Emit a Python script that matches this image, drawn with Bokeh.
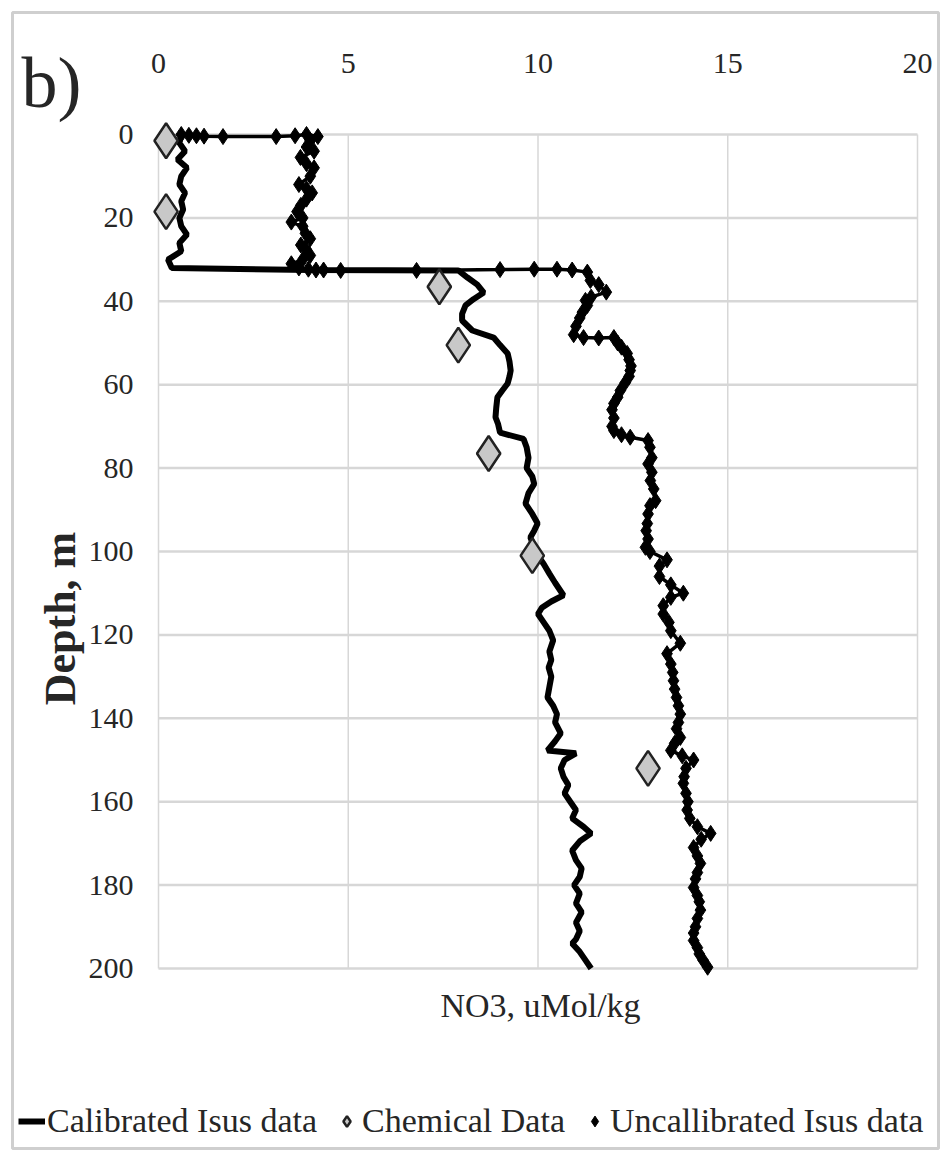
import math
from bokeh.plotting import figure
from bokeh.models import (Range1d, FixedTicker, Label, Legend, LegendItem,
                          BoxAnnotation, ColumnDataSource, LinearAxis)
from bokeh.embed import file_html
from bokeh.resources import INLINE

# ---------------- data ----------------
x_ticks = [0, 5, 10, 15, 20]
y_ticks = [0, 20, 40, 60, 80, 100, 120, 140, 160, 180, 200]

# Chemical data (bottle samples)
chem_no3 = [0.2, 0.2, 7.4, 7.9, 8.7, 9.85, 12.9]
chem_depth = [1.5, 18.5, 36.5, 50.5, 76.5, 101, 152]

# Calibrated Isus data
cal_depth = [0, 2, 4, 6, 8, 10, 12, 14, 16, 18, 20, 22, 24, 26, 28, 30, 32,
             32.5, 32.6, 34.3, 36, 37.9, 39.5, 41, 43, 44.6, 47, 48.7, 50.5,
             52.5, 54.5, 56.6, 58, 59.7, 61.5, 63, 65.5, 67.8, 69.5, 71.5, 73,
             75, 77.5, 80, 82, 83.8, 86, 88.5, 91, 93.3, 95, 96.6, 99, 101,
             103, 105.3, 107.5, 110.5, 112, 113.5, 115, 117, 119, 121.3, 124,
             126, 127.8, 130, 132.5, 135, 137, 139, 141, 143.6, 145.5, 147.7,
             148.4, 150, 152, 154, 156, 158, 160, 162, 164, 166, 167.6, 169.5,
             171.7, 174, 176, 178, 180, 182, 184.4, 186.5, 189, 191, 193, 194,
             196, 198, 200]
cal_no3 = [0.6, 0.55, 0.7, 0.5, 0.75, 0.6, 0.55, 0.7, 0.6, 0.65, 0.55, 0.6,
           0.75, 0.55, 0.6, 0.25, 0.35,
           4.0, 7.9, 8.14, 8.4, 8.57, 8.3, 8.09, 8.0, 8.0, 8.27, 8.83, 9.0,
           9.2, 9.25, 9.28, 9.25, 9.2, 9.05, 8.93, 8.9, 8.88, 8.95, 9.0, 9.62,
           9.7, 9.75, 9.7, 9.85, 9.9, 9.75, 9.67, 9.85, 9.99, 9.9, 9.8, 9.9,
           10.0, 10.15, 10.3, 10.45, 10.67, 10.35, 10.1, 10.0, 10.15, 10.3,
           10.4, 10.3, 10.35, 10.28, 10.35, 10.3, 10.25, 10.4, 10.5, 10.45,
           10.6, 10.45, 10.25, 11.0, 10.7, 10.6, 10.67, 10.8, 10.7, 10.85,
           11.0, 10.9, 11.2, 11.4, 11.1, 10.9, 11.0, 11.15, 11.1, 10.95, 11.1,
           11.0, 11.15, 11.0, 11.1, 11.0, 10.9, 11.1, 11.25, 11.4]

# Uncalibrated Isus data
uncal_depth = [0, 0.2, 0.3, 0.4, 0.5, 0.5, 0.3, 0, 0.5, 1.5, 3, 4, 5.5, 7, 8,
               10, 12, 13, 14, 15.5, 17, 18.5, 20, 21, 22, 23.7, 25, 26.5,
               27.7, 29, 30, 31, 32, 32.3, 32.5, 32.5, 32.6, 32.6, 32.4, 32.3,
               32.3, 32.5, 33, 35, 36, 37.8, 39, 39.8, 41, 42.6, 44, 46, 48,
               48.7, 48.8, 48.7, 50, 51, 52.5, 54, 55.5, 56.6, 58, 59.5, 61.4,
               63, 64.5, 66, 68, 70, 71, 72, 72.6, 73.4, 75, 77.5, 79, 81, 83,
               85, 87.8, 89, 91, 93.3, 95, 97, 99, 100, 102, 103.5, 106, 108,
               110, 111, 113, 115, 117, 119, 122, 124.5, 127, 129, 131, 133,
               135, 137, 139, 141, 142.5, 144.6, 146, 147.7, 149, 150, 152,
               154, 155.6, 158, 160, 162, 164, 166, 167.6, 169, 171, 173,
               174.8, 177, 178.5, 180.6, 182.5, 184, 186, 188, 190, 191.5,
               193.3, 195, 196.5, 198, 199.7]
uncal_no3 = [0.6, 0.8, 1.0, 1.2, 1.7, 3.1, 3.6, 3.9, 4.2, 4.0, 3.9, 4.1, 3.74,
             3.9, 4.1, 4.0, 3.7, 3.9, 4.05, 3.9, 3.75, 3.65, 3.8, 3.5, 3.8,
             3.87, 4.0, 3.75, 3.9, 4.0, 3.8, 3.5, 3.7, 3.95, 4.15, 4.35, 4.8,
             6.8, 9.0, 9.9, 10.5, 10.9, 11.3, 11.38, 11.6, 11.8, 11.4, 11.25,
             11.3, 11.17, 11.1, 11.0, 10.94, 11.2, 11.6, 12.0, 12.1, 12.2,
             12.35, 12.4, 12.45, 12.43, 12.4, 12.3, 12.17, 12.1, 12.0, 11.95,
             12.0, 11.95, 12.0, 12.2, 12.43, 12.9, 12.95, 13.0, 12.9, 13.0,
             12.96, 13.05, 13.1, 12.95, 12.9, 12.88, 12.85, 12.9, 12.83, 12.95,
             13.4, 13.2, 13.2, 13.5, 13.83, 13.5, 13.3, 13.3, 13.45, 13.5,
             13.75, 13.4, 13.5, 13.55, 13.57, 13.6, 13.65, 13.7, 13.75, 13.7,
             13.65, 13.75, 13.6, 13.5, 13.8, 14.1, 13.9, 13.85, 13.83, 13.9,
             13.95, 13.93, 14.0, 14.2, 14.55, 14.3, 14.1, 14.2, 14.28, 14.2,
             14.15, 14.1, 14.2, 14.25, 14.28, 14.2, 14.15, 14.1, 14.1, 14.2,
             14.25, 14.35, 14.47]

series_names = ["Calibrated Isus data", "Chemical Data", "Uncallibrated Isus data"]
x_title = "NO3, uMol/kg"
y_title = "Depth, m"
panel_tag = "b)"

# ---------------- layout (pixels) ----------------
W, H = 948, 1156
PX_L, PX_R = 158, 917      # page x of NO3 = 0 and NO3 = 20
PX_T, PX_B = 134, 968      # page y of depth 0 and depth 200
sx = (PX_R - PX_L) / (x_ticks[-1] - x_ticks[0])
sy = (PX_B - PX_T) / (y_ticks[-1] - y_ticks[0])
def dx(px):
    return (px - PX_L) / sx
def dy(py):
    return (py - PX_T) / sy

FONT = "Liberation Serif"
TXT = "#262626"
GRID = "#d7d7d7"

p = figure(width=W, height=H, output_backend="svg", toolbar_location=None,
           x_range=Range1d(dx(0), dx(W)), y_range=Range1d(dy(H), dy(0)),
           x_axis_type=None, y_axis_type=None, min_border=0)
p.background_fill_color = "white"
p.border_fill_color = "white"
p.outline_line_color = None

# axes placed on the plot-area edges
xaxis = LinearAxis(fixed_location=0, ticker=FixedTicker(ticks=x_ticks))
yaxis = LinearAxis(fixed_location=0, ticker=FixedTicker(ticks=y_ticks))
for ax in (xaxis, yaxis):
    ax.axis_line_color = None
    ax.major_tick_line_color = None
    ax.minor_tick_line_color = None
    ax.major_tick_out = 0
    ax.major_tick_in = 0
    ax.major_label_text_font = FONT
    ax.major_label_text_font_size = "30px"
    ax.major_label_text_color = TXT
xaxis.major_label_standoff = 62
yaxis.major_label_standoff = 25
p.add_layout(xaxis, "above")
p.add_layout(yaxis, "left")

# grid lines (plot-area box included)
p.segment(x0=x_ticks, y0=[y_ticks[0]] * len(x_ticks),
          x1=x_ticks, y1=[y_ticks[-1]] * len(x_ticks),
          line_color=GRID, line_width=1.5)
p.segment(x0=[x_ticks[0]] * len(y_ticks), y0=y_ticks,
          x1=[x_ticks[-1]] * len(y_ticks), y1=y_ticks,
          line_color=GRID, line_width=2.5)

# ---------------- series ----------------
cal_src = ColumnDataSource(dict(x=cal_no3, y=cal_depth))
unc_src = ColumnDataSource(dict(x=uncal_no3, y=uncal_depth))
chem_src = ColumnDataSource(dict(x=chem_no3, y=chem_depth))

r_cal = p.line("x", "y", source=cal_src, line_color="black", line_width=6)
r_unc_line = p.line("x", "y", source=unc_src, line_color="black", line_width=3.5)
r_unc_pts = p.scatter("x", "y", source=unc_src, marker="diamond", size=16,
                      fill_color="black", line_color="black")
r_chem = p.scatter("x", "y", source=chem_src, marker="diamond", size=35,
                   fill_color="#c8c8c8", line_color="#222222", line_width=2.5)

legend = Legend(items=[
    LegendItem(label=series_names[0], renderers=[r_cal]),
    LegendItem(label=series_names[1], renderers=[r_chem]),
    LegendItem(label=series_names[2], renderers=[r_unc_pts]),
], location=(18, 14), orientation="horizontal",
    label_text_font=FONT, label_text_font_size="34px", label_text_color=TXT,
    glyph_width=27, glyph_height=42, label_standoff=2, spacing=16,
    padding=0, margin=0, border_line_color=None, background_fill_alpha=0)
p.add_layout(legend, "center")

# ---------------- texts ----------------
p.add_layout(Label(x=dx(51), y=dy(82), text=panel_tag, text_font=FONT,
                   text_font_size="72px", text_color=TXT,
                   text_align="center", text_baseline="middle"))
p.add_layout(Label(x=dx(60), y=dy(618), text=y_title, text_font=FONT,
                   text_font_size="44px", text_font_style="bold",
                   text_color=TXT, angle=math.pi / 2,
                   text_align="center", text_baseline="middle"))
p.add_layout(Label(x=dx(540), y=dy(1005), text=x_title, text_font=FONT,
                   text_font_size="34px", text_color=TXT,
                   text_align="center", text_baseline="middle"))

# outer frame of the figure panel
p.add_layout(BoxAnnotation(left=dx(12), right=dx(938), top=dy(12), bottom=dy(1148),
                           fill_alpha=0, line_color="#cfcfcf", line_width=3,
                           line_alpha=1))

open("out.html", "w").write(file_html(p, INLINE))
